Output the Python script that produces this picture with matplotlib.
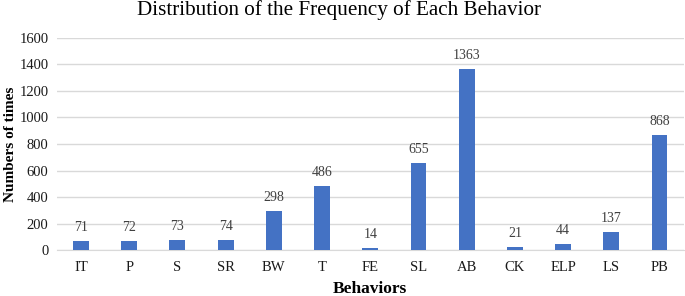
import matplotlib
matplotlib.use("Agg")
import matplotlib.pyplot as plt

categories = ["IT", "P", "S", "SR", "BW", "T", "FE", "SL", "AB", "CK", "ELP", "LS", "PB"]
values = [71, 72, 73, 74, 298, 486, 14, 655, 1363, 21, 44, 137, 868]
yticks = [0, 200, 400, 600, 800, 1000, 1200, 1400, 1600]

plt.rcParams['font.family'] = ['Liberation Serif', 'DejaVu Serif']

fig = plt.figure(figsize=(6.85, 2.96), dpi=100)
ax = fig.add_axes([0.083, 0.155, 0.915, 0.717])

x = list(range(len(categories)))
ax.bar(x, values, width=0.33, color="#4472C4", zorder=3)
for xi, v in zip(x, values):
    ax.annotate(str(v), (xi, v), xytext=(0, 5), textcoords="offset points",
                ha="center", va="bottom", fontsize=10, color="#404040")

ax.set_xlim(-0.5, len(categories) - 0.5)
ax.set_ylim(0, 1600)
ax.set_yticks(yticks)
ax.set_xticks(x)
ax.set_xticklabels(categories)
ax.tick_params(axis="both", length=0, labelsize=10.5, labelcolor="#1a1a1a")
ax.tick_params(axis="x", pad=8)
ax.tick_params(axis="y", pad=6)
ax.grid(axis="y", color="#D9D9D9", linewidth=1, zorder=0)
for s in ["top", "right", "left"]:
    ax.spines[s].set_visible(False)
ax.spines["bottom"].set_color("#D9D9D9")

fig.text(0.495, 0.948, "Distribution of the Frequency of Each Behavior", fontsize=15.2,
         ha="center", va="baseline")
ax.set_xlabel("Behaviors", fontsize=12.5, fontweight="bold", labelpad=5)
ax.set_ylabel("Numbers of times", fontsize=11, fontweight="bold", labelpad=2)

fig.savefig("out.png", dpi=100)
